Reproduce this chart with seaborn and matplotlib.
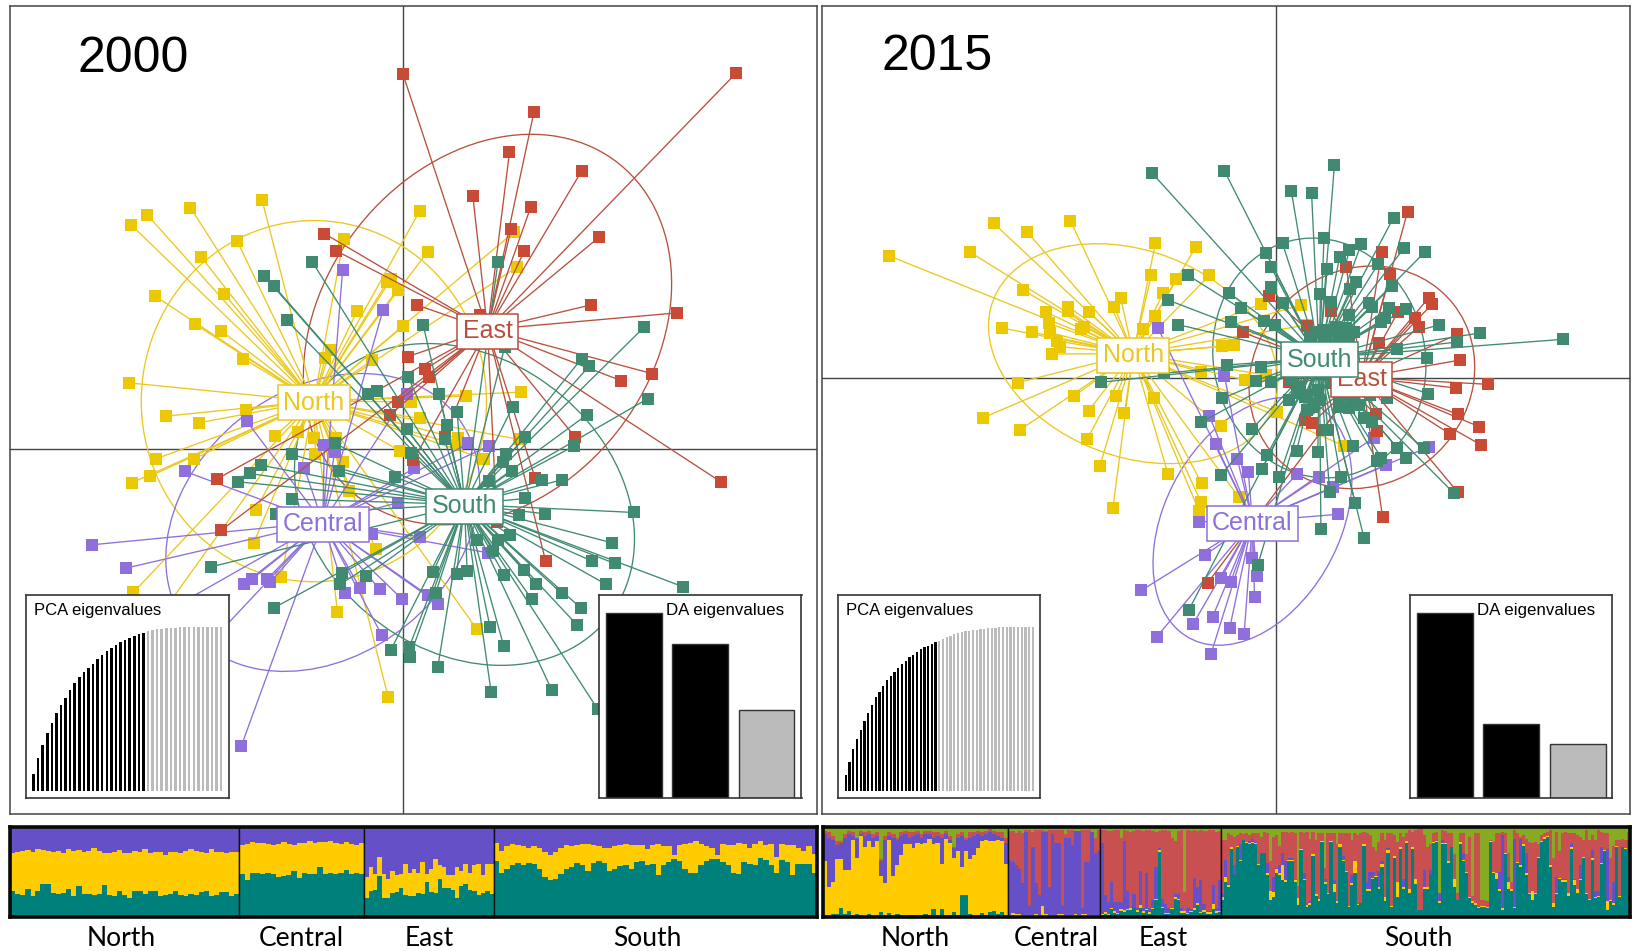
import matplotlib
matplotlib.use("Agg")
import matplotlib.pyplot as plt
from matplotlib.patches import Ellipse
import seaborn as sns

sns.set_theme(style="white")
plt.rcParams['font.family'] = ['Liberation Sans', 'DejaVu Sans']
plt.rcParams['text.color'] = 'black'

W, H = 1633, 951
YEARS = ["2000", "2015"]
GROUPS = ["North", "Central", "East", "South"]
COL = {"North": "#EBC800", "Central": "#8E6FDB", "East": "#C94A35", "South": "#3F8A70"}
EDGE = {"North": "#EBC81E", "Central": "#8E6FDB", "East": "#B8503F", "South": "#3F8A70"}
STRUCT = {"teal": "#00807A", "yellow": "#FFCC00", "purple": "#6650C8", "red": "#C85050", "green": "#88AA22"}

# ---- DAPC scores 2000 ----
n00_x = [501,364,281,250,453,657,802,818,983,988,385,428,297,740,748,760,683,372,422,771,465,632,622,711,246,890,996,786,471,317,803,
         380,525,570,600,642,875,993,873,765,298,371,603,656,925,287,252,668,489,485,718,538,255,645,912,742,300]
n00_y = [600,622,643,673,721,716,633,754,695,801,771,880,888,845,835,868,931,971,991,978,1075,1048,1073,1080,1148,1188,1176,1205,1228,1248,1255,
         1268,1308,1295,1313,1315,1315,1318,1335,1353,1376,1376,1362,1385,1376,1428,1448,1473,1530,1628,1647,1730,1777,1836,1888,2091,1860]
c00_x = [655,732,778,472,620,640,895,934,354,582,791,760,712,802,932,176,241,467,481,510,517,660,688,726,768,838,818,730,461,300,400]
c00_y = [808,930,1180,1264,1335,1355,1330,1338,1414,1405,1405,1508,1601,1610,1658,1634,1704,1751,1738,1738,1746,1778,1763,1768,1796,1811,1785,1906,2239,1850,1930]
e00_x = [770,1407,1021,974,1112,904,1015,977,1146,1002,620,643,798,917,1130,1294,1246,1187,780,813,821,760,745,850,1099,790,1023,1379,414,423,950,1043]
e00_y = [220,219,334,456,512,587,619,687,710,753,700,752,915,945,914,938,1120,1141,1069,1107,1130,1205,1245,1310,1310,1380,1433,1446,1437,1590,1565,1682]
s00_x = [597,505,524,548,952,809,965,1232,1112,1127,780,703,721,839,874,980,1122,1238,854,778,1003,850,1097,640,785,968,962,558,498,477,455,648,756,978,935,1036,1075,
         1004,558,528,1042,993,1212,975,911,953,943,1170,1132,1175,404,828,873,893,964,1002,653,700,650,1025,1159,1306,833,1074,1017,524,1110,1104,937,782,747,963,783,837,939,1055,1143]
s00_y = [785,827,858,960,785,974,1040,980,1075,1097,1129,1180,1173,1180,1237,1220,1244,1196,1276,1288,1312,1318,1338,1330,1358,1362,1385,1363,1395,1420,1445,1413,1431,1413,1442,1441,1439,
         1495,1497,1543,1541,1545,1537,1605,1621,1620,1652,1628,1683,1690,1700,1715,1722,1713,1725,1710,1720,1727,1753,1752,1753,1760,1778,1780,1798,1823,1823,1876,1882,1942,1950,1938,1972,2000,2077,2070,2128]
centroid00_x = [600, 617, 932, 888]
centroid00_y = [1203, 1567, 988, 1513]
ell00_major = [542, 457, 594.7, 491.6]
ell00_minor = [330, 284.7, 337, 311.8]
ell00_angle = [90, 74.6, 78, 104]

# ---- DAPC scores 2015 ----
n15_x = [134,289,335,400,483,647,725,639,687,751,392,662,580,568,479,478,518,436,646,927,851,441,510,503,351,408,444,622,458,463,447,776,799,939,735,860,820,381,490,571,645,315,518,587,881,386,773,515,1010,540,671,736,565,735,808,731]
n15_y = [378,366,280,307,272,338,350,436,447,436,481,489,505,531,530,543,545,546,558,525,522,580,590,598,594,606,608,597,633,650,672,649,646,585,725,735,750,758,798,798,803,863,842,850,845,899,889,928,947,1007,1032,1060,1133,1117,1102,1143]
c15_x = [652,780,751,763,805,826,920,963,990,1092,1175,1068,731,998,742,620,833,842,774,792,838,720,757,790,650,818,754]
c15_y = [595,737,858,943,988,1026,1032,1040,1072,1006,950,923,1175,1153,1276,1381,1284,1338,1344,1356,1400,1481,1461,1495,1520,1512,1572]
e15_x = [1133,1083,1015,1099,866,1174,1180,986,1115,1148,1155,940,815,1229,1078,1235,1288,1227,1230,1073,1271,1075,1215,1274,935,948,968,905,1230,1085,748]
e15_y = [246,367,412,433,497,503,523,542,545,563,590,587,607,613,640,690,763,774,853,852,890,903,912,944,870,880,900,755,1087,1161,1358]
s15_x = [641,780,992,909,948,1106,860,892,972,1044,1127,1166,1021,1002,870,710,978,1076,870,1033,1103,1023,788,671,965,986,892,1058,1097,1130,812,1064,1090,1082,1020,857,792,691,878,1193,1273,1229,1432,1112,1170,785,850,663,542,840,870,1173,776,1094,1060,940,905,1025,1050,735,833,980,1065,1028,919,960,1113,1164,862,1131,1082,1075,852,773,885,1004,983,1222,1032,966,1049,844,711,
         960,985,1005,975,1000,945,1020,935,1000,960,920,1030,950,1000,
         970,995,1015,955,1030,1040,925,910,985,1010,1025,965,940,1020,1040]
s15_y = [130,123,106,184,190,263,368,340,323,341,353,367,361,382,412,436,418,403,470,455,468,478,488,510,492,515,518,518,533,538,535,530,565,575,555,572,576,584,584,585,609,636,628,658,684,705,712,730,757,752,757,791,805,803,795,795,810,825,865,877,897,900,875,947,963,966,953,955,975,985,983,993,1018,1036,1042,1040,1087,1089,1118,1198,1223,1306,1441,
         610,600,610,625,625,620,620,800,800,780,790,790,830,830,
         600,590,595,605,605,740,770,750,760,770,815,810,840,835,825]
centroid15_x = [604, 834, 1045, 963]
centroid15_y = [671, 1174, 742, 684]
ell15_major = [348, 379, 335, 360]
ell15_minor = [256, 177, 216, 205]
ell15_angle = [118, 77.3, 84.1, 93]

# ---- eigenvalues ----
pca00_kept = [10.5,20.2,27.7,35.2,41.3,47.4,52.6,56.7,61.5,65.6,69.2,72.3,74.9,77.3,80.4,83.0,85.0,87.0,88.9,90.5,91.9,93.1,94.5,95.5,96.2]
pca00_rest = [97.2,98.0,98.4,98.8,99.0,99.2,99.4,99.6,99.6,99.8,99.8,100,100,100,100,100,100]
pca15_kept = [9.7,17.8,25.9,31.5,37.4,42.6,47.5,52.7,57.2,60.2,64.2,67.3,70.3,72.3,74.9,77.4,79.0,81.4,83.0,84.8,86.5,87.5,88.5,89.5,90.9]
pca15_rest = [91.5,92.5,93.5,94.5,95.4,96.0,96.6,97.2,97.6,98.0,98.2,98.6,98.8,99.0,99.2,99.4,99.6,99.6,99.8,99.8,99.8,100,100,100,100,100]
da00 = [100, 83, 47.7]
da15 = [100, 40, 29.5]

# ---- membership 2000 (cumulative %, bottom-up) ----
t00_north = [28,25,24,31,23,28,36,36,26,25,26,31,23,34,25,25,24,25,35,24,23,28,24,21,28,28,25,28,28,23,24,25,28,24,23,25,24,27,28,23,24,27,27,23,25]
y00_north = [71,72,73,74,72,75,74,73,72,73,71,75,73,74,72,73,76,73,71,71,72,74,71,71,73,72,75,71,72,72,69,72,72,71,73,75,73,72,71,75,72,72,71,72,72]
t00_central = [47,41,49,49,47,49,47,44,45,46,51,43,49,47,47,55,47,49,47,49,52,47,49,47]
y00_central = [80,81,83,82,82,81,80,81,83,81,80,82,82,84,82,83,83,84,82,81,83,81,80,82]
t00_east = [21,28,30,45,21,21,26,27,32,24,23,23,26,25,38,27,26,42,32,32,30,21,34,36,30,28,24,26,28,25]
y00_east = [44,55,47,67,47,42,51,46,47,59,49,53,49,61,47,53,64,57,55,46,46,55,51,59,49,57,59,46,59,59]
t00_south = [62,49,53,58,60,58,60,59,53,44,41,42,47,53,55,60,57,51,60,62,60,51,53,56,58,53,61,62,58,59,46,57,61,64,62,53,49,49,57,62,64,64,61,57,49,47,61,59,57,65,63,57,49,63,61,46,59,59,59,49]
y00_south = [82,73,79,81,80,79,77,79,77,72,69,72,76,80,79,80,81,81,80,79,76,77,79,80,81,80,80,80,75,80,81,79,79,69,80,81,82,84,81,79,76,69,81,80,80,82,81,77,81,84,80,81,67,81,80,80,77,73,79,70]

# ---- membership 2015 (cumulative %, bottom-up) ----
t15_north = [2,2,3,3,9,3,6,2,3,2,1,3,1,2,5,2,4,2,3,2,2,2,2,2,2,3,2,8,2,8,2,2,5,2,24,24,3,2,2,4,2,5,6,3,5,2]
y15_north = [62,33,39,64,64,52,52,85,65,90,78,84,78,84,45,37,86,45,57,69,81,81,76,82,81,82,87,81,82,59,87,82,65,73,55,73,64,69,76,84,86,84,84,86,84,59]
p15_north = [92,88,86,80,82,88,92,90,88,92,90,92,88,90,62,85,90,88,85,90,92,88,90,92,88,92,92,88,90,88,92,85,76,88,90,85,88,90,92,90,92,94,92,90,88,82]
r15_north = [96,94,90,84,84,92,95,94,88,96,94,96,92,94,64,90,94,92,88,94,96,94,94,96,92,96,96,94,94,92,96,90,78,92,94,88,94,94,96,94,96,98,96,94,94,88]
t15_central = [1,1,1,1,1,1,0,1,1,1,1,1,1,0,1,1,1,1,1,1,1,1,1,1,1,1,1,1]
y15_central = [2,4,3,3,2,2,2,2,3,2,12,3,2,2,2,3,3,2,2,2,3,2,3,3,2,2,2,2]
p15_central = [63,61,57,53,37,94,12,78,37,24,94,94,33,92,82,82,12,88,88,80,96,96,10,61,61,94,71,73]
r15_central = [96,96,93,95,93,97,97,94,97,97,97,96,97,97,97,97,97,92,97,97,96,96,97,97,97,94,88,97]
t15_east = [2,3,2,8,4,3,6,5,7,7,9,5,10,4,7,3,8,18,72,10,3,3,8,20,18,4,4,3,5,7,13,4,5,3,3,8,4,5]
y15_east = [3,5,3,10,6,4,8,7,8,9,10,7,13,6,8,5,10,20,74,11,4,4,9,22,19,6,6,4,6,9,15,5,7,5,5,14,6,6]
p15_east = [82,24,16,39,16,16,16,84,29,10,25,10,51,10,49,10,18,55,76,20,14,10,10,25,25,10,6,10,8,43,33,41,14,6,6,35,10,41]
r15_east = [97,97,95,96,97,97,88,97,96,94,95,97,97,96,97,97,96,94,96,97,97,95,88,84,96,97,27,97,96,97,96,97,96,95,97,97,94,95]
# South 2015: boundary heights read as pixel rows of the 3x crop, row 278 = 0 %, row 22 = 100 %
t15_south_rows = [230,178,195,85,160,80,118,60,68,70,68,70,130,100,97,160,230,222,155,160,175,178,118,118,180,245,88,175,250,245,105,220,233,65,185,215,65,208,240,80,120,150,250,188,155,245,240,75,205,205,170,165,200,135,235,95,250,110,222,85,200,68,210,85,185,260,260,200,
                  198,158,68,65,240,72,72,125,80,195,232,70,120,155,225,238,245,255,250,252,255,65,155,170,205,258,98,200,205,255,125,135,75,160,215,230,215,110,65,55,50,135,250,215,170,180,180,218,85,188,210,175,110,215,232,115,225,222,128,90,258,235,245,80,222,80,85,60]
y15_south_rows = [222,165,188,80,158,75,115,58,66,68,65,68,128,98,95,155,205,208,143,155,130,175,115,115,175,225,85,170,245,238,98,215,228,63,180,210,63,185,235,72,115,148,247,182,120,243,238,70,198,198,168,162,195,128,222,88,247,105,178,80,195,63,198,78,172,258,258,195,
                  195,158,65,63,235,68,68,120,78,170,230,65,115,150,222,235,238,252,248,248,252,63,152,155,200,255,95,180,200,250,122,132,72,155,212,205,212,108,62,52,48,130,238,210,168,175,175,212,80,175,200,172,108,212,228,110,222,218,125,88,235,232,240,76,218,78,82,58]
p15_south_rows = [215,115,185,80,130,75,72,58,66,62,55,65,128,97,95,125,205,165,140,130,95,120,110,110,175,225,85,155,240,235,98,215,228,63,172,210,63,175,230,72,105,148,247,160,120,243,238,70,180,150,150,162,148,118,222,82,247,105,178,80,170,63,198,78,172,258,258,145,
                  195,145,65,63,210,58,68,120,78,170,230,65,95,150,222,235,238,252,248,248,252,63,152,155,150,45,95,165,200,55,122,55,72,95,212,205,212,108,62,52,48,130,238,165,168,170,170,212,70,170,200,130,108,212,228,88,205,205,80,88,85,232,180,76,218,78,82,58]
r15_south_rows = [60,60,40,45,50,45,40,42,40,45,38,40,38,50,35,38,120,50,45,75,35,35,38,35,40,190,35,38,35,55,35,60,40,40,140,40,40,40,70,40,40,40,40,60,40,45,38,35,38,45,80,90,65,40,60,40,40,45,65,40,50,40,30,35,30,28,25,45,
                  78,70,38,35,210,32,33,38,40,100,210,40,40,100,50,220,38,38,230,232,235,60,65,40,40,35,38,95,180,30,40,50,45,55,65,68,65,70,45,40,35,30,110,35,90,40,35,40,40,40,45,50,60,30,60,45,60,30,35,40,38,110,75,60,60,55,60,35]


def pct(rows):
    return [(278 - v) / 2.56 for v in rows]


def px_axes(fig, x0, y0, x1, y1, **kw):
    return fig.add_axes([x0 / W, 1 - y1 / H, (x1 - x0) / W, (y1 - y0) / H], **kw)


def style_box(ax, color="#444444", lw=1.1):
    ax.set(xlabel="", ylabel="", xticks=[], yticks=[])
    for s in ax.spines.values():
        s.set_visible(True)
        s.set_color(color)
        s.set_linewidth(lw)


def score_panel(fig, frame, lims, origin, pts, cen, ell):
    ax = px_axes(fig, *frame)
    ox, oy = origin
    ax.axvline(0, color="#444444", lw=1, zorder=0.5)
    ax.axhline(0, color="#444444", lw=1, zorder=0.5)
    for i, g in enumerate(GROUPS):
        cx, cy = cen[0][i] - ox, oy - cen[1][i]
        ax.add_patch(Ellipse((cx, cy), 2 * ell[0][i], 2 * ell[1][i], angle=ell[2][i],
                             fill=False, ec=EDGE[g], lw=0.95, zorder=1 + 0.01 * i))
    for i, g in enumerate(GROUPS):
        cx, cy = cen[0][i] - ox, oy - cen[1][i]
        xs = [v - ox for v in pts[g][0]]
        ys = [oy - v for v in pts[g][1]]
        for x, y in zip(xs, ys):
            ax.plot([cx, x], [cy, y], color=EDGE[g], lw=0.95, zorder=2 + 0.1 * i, solid_capstyle="butt")
        sns.scatterplot(x=xs, y=ys, marker="s", s=64, color=COL[g], linewidth=0, ax=ax,
                        zorder=2.05 + 0.1 * i, legend=False)
    for i, g in enumerate(GROUPS):
        cx, cy = cen[0][i] - ox, oy - cen[1][i]
        ax.text(cx, cy - 5, g, color=EDGE[g], fontsize=18, family="Liberation Sans", ha="center", va="center",
                zorder=5 + i, bbox=dict(boxstyle="square,pad=0.22", fc="white", ec=EDGE[g], lw=1.1))
    ax.set_xlim(*lims[0])
    ax.set_ylim(*lims[1])
    style_box(ax)
    return ax


def pca_inset(fig, box, xlim, ylim, kept, rest, bw):
    ax = px_axes(fig, *box, zorder=10)
    vals = kept + rest
    idx = list(range(len(vals)))
    kind = ["kept"] * len(kept) + ["rest"] * len(rest)
    sns.barplot(x=idx, y=vals, hue=kind, palette={"kept": "black", "rest": "#BBBBBB"}, dodge=False,
                width=bw, saturation=1, linewidth=0, legend=False, errorbar=None, ax=ax)
    ax.set_xlim(*xlim)
    ax.set_ylim(*ylim)
    style_box(ax, "#333333", 1.2)
    fig.text((box[0] + 7.5) / W, 1 - 611 / H, "PCA eigenvalues", fontsize=12, family="Liberation Sans",
             va="center", ha="left", zorder=20)


def da_inset(fig, box, xlim, ymax, vals, title_x):
    ax = px_axes(fig, *box, zorder=10)
    kind = ["a", "b", "c"]
    sns.barplot(x=[0, 1, 2], y=vals, hue=kind, palette={"a": "black", "b": "black", "c": "#BBBBBB"}, dodge=False,
                width=0.844, saturation=1, edgecolor="#333333", linewidth=1, legend=False, errorbar=None, ax=ax)
    ax.set_xlim(*xlim)
    ax.set_ylim(0, ymax)
    style_box(ax, "#333333", 1.2)
    fig.text(title_x / W, 1 - 611 / H, "DA eigenvalues", fontsize=12.2, family="Liberation Sans",
             va="center", ha="left", zorder=20)


def structure(fig, spans, layers, y0=827, y1=916.5):
    for (x0, x1), grp in zip(spans, layers):
        ax = px_axes(fig, x0, y0, x1, y1)
        names = list(grp.keys())
        ax.set_facecolor(STRUCT[names[-1]])
        n = len(grp[names[0]])
        for name in reversed(names):
            sns.barplot(x=list(range(n)), y=grp[name], color=STRUCT[name], saturation=1, width=1.06, linewidth=0,
                        antialiased=False, errorbar=None, ax=ax)
        ax.set_xlim(-0.5, n - 0.5)
        ax.set_ylim(0, 100)
        style_box(ax, "#111111", 1.0)
    frame = px_axes(fig, spans[0][0], y0, spans[-1][1], y1, zorder=12)
    frame.patch.set_alpha(0)
    style_box(frame, "#0A0A0A", 2.6)


fig = plt.figure(figsize=(W / 100, H / 100), dpi=100, facecolor="white")

# 2000
score_panel(fig, (10, 6, 817, 814), ((-752, 791), (-1094, 1331)), (771, 1348),
            {"North": (n00_x, n00_y), "Central": (c00_x, c00_y), "East": (e00_x, e00_y), "South": (s00_x, s00_y)},
            (centroid00_x, centroid00_y), (ell00_major, ell00_minor, ell00_angle))
# 2015
score_panel(fig, (822, 6, 1630, 814), ((-876, 682), (-1307, 1117)), (880, 745),
            {"North": (n15_x, n15_y), "Central": (c15_x, c15_y), "East": (e15_x, e15_y), "South": (s15_x, s15_y)},
            (centroid15_x, centroid15_y), (ell15_major, ell15_minor, ell15_angle))

fig.text(133 / W, 1 - 59 / H, YEARS[0], fontsize=36, family="Liberation Sans", ha="center", va="center", zorder=20)
fig.text(937 / W, 1 - 57 / H, YEARS[1], fontsize=36, family="Liberation Sans", ha="center", va="center", zorder=20)

pca_inset(fig, (26.2, 595, 229.2, 798), (-1.6, 42.74), (-4.25, 119.2), pca00_kept, pca00_rest, 0.55)
pca_inset(fig, (838.5, 595, 1040.5, 798), (-1.93, 52.0), (-4.04, 119.2), pca15_kept, pca15_rest, 0.6)
da_inset(fig, (599, 595, 801.5, 798), (-0.533, 2.529), 109.7, da00, 666.5)
da_inset(fig, (1410.2, 595, 1612.2, 798), (-0.523, 2.52), 109.9, da15, 1477.5)

structure(fig, [(10, 239.5), (239.5, 364.5), (364.5, 493.7), (493.7, 817)], [
    {"teal": t00_north, "yellow": y00_north, "purple": [100] * len(t00_north)},
    {"teal": t00_central, "yellow": y00_central, "purple": [100] * len(t00_central)},
    {"teal": t00_east, "yellow": y00_east, "purple": [100] * len(t00_east)},
    {"teal": t00_south, "yellow": y00_south, "purple": [100] * len(t00_south)},
])
structure(fig, [(823, 1008), (1008, 1100.5), (1100.5, 1221.3), (1221.3, 1630)], [
    {"teal": t15_north, "yellow": y15_north, "purple": p15_north, "red": r15_north, "green": [100] * len(t15_north)},
    {"teal": t15_central, "yellow": y15_central, "purple": p15_central, "red": r15_central, "green": [100] * len(t15_central)},
    {"teal": t15_east, "yellow": y15_east, "purple": p15_east, "red": r15_east, "green": [100] * len(t15_east)},
    {"teal": pct(t15_south_rows), "yellow": pct(y15_south_rows), "purple": pct(p15_south_rows), "red": pct(r15_south_rows),
     "green": [100] * len(t15_south_rows)},
])

for name, xc in zip(GROUPS, (121, 301, 429, 647.5)):
    fig.text(xc / W, 1 - 939 / H, name, fontsize=19, family="Lato", ha="center", va="center")
for name, xc in zip(GROUPS, (915, 1056, 1163, 1418)):
    fig.text(xc / W, 1 - 939 / H, name, fontsize=19, family="Lato", ha="center", va="center")

fig.savefig("out.png", dpi=100)
